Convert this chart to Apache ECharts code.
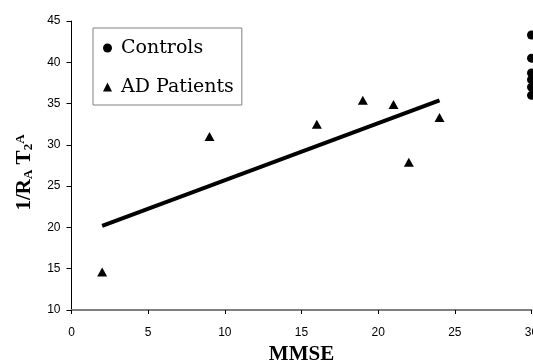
<!DOCTYPE html>
<html>
<head>
<meta charset="utf-8">
<script src="https://cdn.jsdelivr.net/npm/echarts@6/dist/echarts.min.js"></script>
<style>
    html, body { margin: 0; padding: 0; background: #fff; }
    #chart { width: 533px; height: 362px; }
</style>
</head>
<body>
<div id="chart"></div>
<script>
// values
let controlsX = [30, 30, 30, 30, 30, 30];
let controlsY = [43.3, 40.5, 38.7, 37.9, 37.0, 36.0];
let patientsX = [2, 9, 16, 19, 21, 22, 24];
let patientsY = [14.6, 31.0, 32.5, 35.4, 34.9, 27.9, 33.3];
let fitX = [2, 24];
let fitY = [20.2, 35.4];

function pairs(xs, ys) {
    let out = [];
    for (let i = 0; i < xs.length; i++) {
        out.push([xs[i], ys[i]]);
    }
    return out;
}

let serifFont = 'Liberation Serif';
let chart = echarts.init(document.getElementById('chart'));
let option = {
    animation: false,
    backgroundColor: '#fff',
    grid: {
        left: 71.5,
        right: 1.5,
        top: 21,
        bottom: 52,
        outerBoundsMode: 'none',
        containLabel: false
    },
    legend: {
        orient: 'vertical',
        left: 93,
        top: 28,
        padding: [10, 8, 8, 10],
        itemGap: 19,
        itemWidth: 9,
        itemHeight: 9,
        borderColor: '#808080',
        borderWidth: 1,
        data: ['Controls', 'AD Patients'],
        itemStyle: { opacity: 1 },
        textStyle: {
            fontFamily: 'DejaVu Serif',
            fontSize: 19,
            lineHeight: 20,
            color: '#000',
            padding: [0, 0, 0, 4]
        }
    },
    xAxis: {
        type: 'value',
        min: 0,
        max: 30,
        interval: 5,
        name: 'MMSE',
        nameLocation: 'middle',
        nameGap: 31,
        nameTextStyle: {
            fontFamily: serifFont,
            fontWeight: 'bold',
            fontSize: 21,
            color: '#000'
        },
        axisLine: {
            lineStyle: { color: '#808080', width: 2 }
        },
        axisTick: {
            length: 4,
            lineStyle: { color: '#000' }
        },
        axisLabel: {
            margin: 17,
            fontFamily: 'Liberation Sans',
            fontSize: 12,
            color: '#000'
        },
        splitLine: { show: false }
    },
    yAxis: {
        type: 'value',
        min: 10,
        max: 45,
        interval: 5,
        name: '1/R{s|A} T{s|2}{p|A}',
        nameLocation: 'middle',
        nameRotate: 90,
        nameGap: 36,
        nameTextStyle: {
            fontFamily: serifFont,
            fontWeight: 'bold',
            fontSize: 21,
            color: '#000',
            padding: [0, 14, 0, 0],
            rich: {
                s: {
                    fontFamily: serifFont,
                    fontWeight: 'bold',
                    fontSize: 13,
                    color: '#000',
                    verticalAlign: 'bottom',
                    padding: [6, 0, 0, 0]
                },
                p: {
                    fontFamily: serifFont,
                    fontWeight: 'bold',
                    fontSize: 13,
                    color: '#000',
                    verticalAlign: 'top',
                    padding: [0, 0, 6, 0]
                }
            }
        },
        axisLine: {
            show: true,
            lineStyle: { color: '#000', width: 1 }
        },
        axisTick: {
            show: true,
            length: 5,
            lineStyle: { color: '#000' }
        },
        axisLabel: {
            margin: 11,
            fontFamily: 'Liberation Sans',
            fontSize: 12,
            color: '#000'
        },
        splitLine: { show: false }
    },
    series: [{
        name: 'Controls',
        type: 'scatter',
        symbol: 'circle',
        symbolSize: 9,
        clip: false,
        itemStyle: { color: '#000', opacity: 1 },
        data: pairs(controlsX, controlsY)
    }, {
        name: 'AD Patients',
        type: 'scatter',
        symbol: 'triangle',
        symbolSize: [10, 9],
        clip: false,
        itemStyle: { color: '#000', opacity: 1 },
        data: pairs(patientsX, patientsY)
    }, {
        name: 'fit',
        type: 'line',
        symbol: 'none',
        silent: true,
        lineStyle: { color: '#000', width: 4 },
        data: pairs(fitX, fitY)
    }]
};
chart.setOption(option);
</script>
</body>
</html>
